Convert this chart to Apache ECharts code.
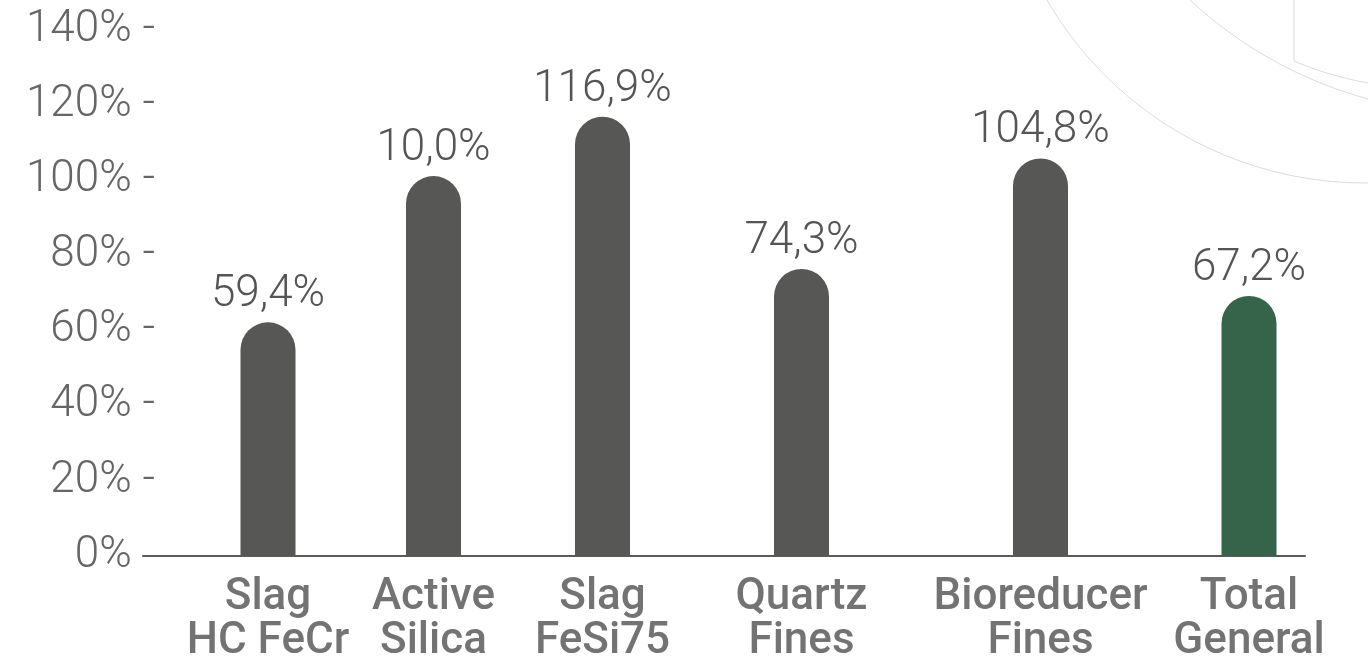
<!DOCTYPE html>
<html>
<head>
<meta charset="utf-8">
<title>Ratio by material</title>
<script src="https://cdn.jsdelivr.net/npm/echarts@6/dist/echarts.min.js"></script>
<style>
    html, body { margin: 0; padding: 0; background: #fff; }
    #chart { width: 1368px; height: 661px; }
</style>
</head>
<body>
<div id="chart"></div>
<script>
// categories (two-line labels), where each bar sits along the baseline, bar heights (%) and the printed labels
var categories = ['Slag\nHC FeCr', 'Active\nSilica', 'Slag\nFeSi75', 'Quartz\nFines', 'Bioreducer\nFines', 'Total\nGeneral'];
var xPositions = [125, 290.5, 459.5, 658.5, 897.5, 1106];
var barValues = [62.1, 101.0, 116.8, 76.3, 105.7, 69.1];
var valueLabels = ['59,4%', '10,0%', '116,9%', '74,3%', '104,8%', '67,2%'];
var yTicks = [0, 20, 40, 60, 80, 100, 120, 140];

var GRAY = '#575756';
var GREEN = '#35644a';
var FONT = 'Roboto';

var chart = echarts.init(document.getElementById('chart'));

var barData = [];
var labelData = [];
categories.forEach(function (name, i) {
    barData.push([xPositions[i], barValues[i]]);
    labelData.push([xPositions[i], 0]);
});

var option = {
    backgroundColor: '#fff',
    animation: false,
    // decorative thin arcs in the top right corner
    graphic: [
        {
            type: 'circle',
            shape: { cx: 1365, cy: -185, r: 368 },
            style: { fill: 'none', stroke: '#dcdcdc', lineWidth: 1 },
            silent: true, z: -1
        },
        {
            type: 'circle',
            shape: { cx: 1480, cy: -312, r: 426 },
            style: { fill: 'none', stroke: '#dcdcdc', lineWidth: 1 },
            silent: true, z: -1
        },
        {
            type: 'bezierCurve',
            shape: { x1: 1294, y1: 61, cpx1: 1315, cpy1: 70, cpx2: 1340, cpy2: 78, x2: 1368, y2: 83 },
            style: { fill: 'none', stroke: '#dcdcdc', lineWidth: 1 },
            silent: true, z: -1
        },
        {
            type: 'line',
            shape: { x1: 1294, y1: 0, x2: 1294, y2: 61 },
            style: { stroke: '#dcdcdc', lineWidth: 1 },
            silent: true, z: -1
        }
    ],
    grid: {
        left: 143,
        right: 63,
        top: 29.5,
        bottom: 105.3
    },
    xAxis: {
        type: 'value',
        min: 0,
        max: 1162,
        axisLine: { show: true, lineStyle: { color: '#5a5a5a', width: 2 } },
        axisTick: { show: false },
        axisLabel: { show: false },
        splitLine: { show: false }
    },
    yAxis: {
        type: 'value',
        min: yTicks[0],
        max: yTicks[yTicks.length - 1],
        interval: yTicks[1] - yTicks[0],
        axisLine: { show: false },
        axisTick: { show: false },
        splitLine: { show: false },
        axisLabel: {
            margin: -12,
            color: '#666',
            fontFamily: FONT,
            fontWeight: 300,
            fontSize: 44,
            formatter: function (v) {
                return '{a|' + v + '%}' + (v === 0 ? '{h| -}' : '{d| -}');
            },
            rich: {
                a: { fontFamily: FONT, fontWeight: 300, fontSize: 44, color: '#666' },
                d: { fontFamily: FONT, fontWeight: 300, fontSize: 44, color: '#666' },
                h: { fontFamily: FONT, fontWeight: 300, fontSize: 44, color: 'rgba(0,0,0,0)' }
            }
        }
    },
    series: [
        {
            type: 'bar',
            data: barData,
            barWidth: 55,
            itemStyle: {
                color: function (p) {
                    return p.dataIndex === categories.length - 1 ? GREEN : GRAY;
                },
                borderRadius: [27.5, 27.5, 0, 0]
            },
            label: {
                show: true,
                position: 'top',
                distance: 5,
                color: '#555',
                fontFamily: FONT,
                fontWeight: 300,
                fontSize: 44,
                formatter: function (p) {
                    return valueLabels[p.dataIndex];
                }
            }
        },
        {
            // category names under each bar
            type: 'scatter',
            data: labelData,
            symbolSize: 0,
            silent: true,
            label: {
                show: true,
                position: 'bottom',
                distance: 20,
                color: '#505050',
                fontFamily: FONT,
                fontWeight: 500,
                fontSize: 44,
                lineHeight: 44,
                align: 'center',
                formatter: function (p) {
                    return categories[p.dataIndex];
                }
            }
        }
    ]
};

chart.setOption(option);
</script>
</body>
</html>
